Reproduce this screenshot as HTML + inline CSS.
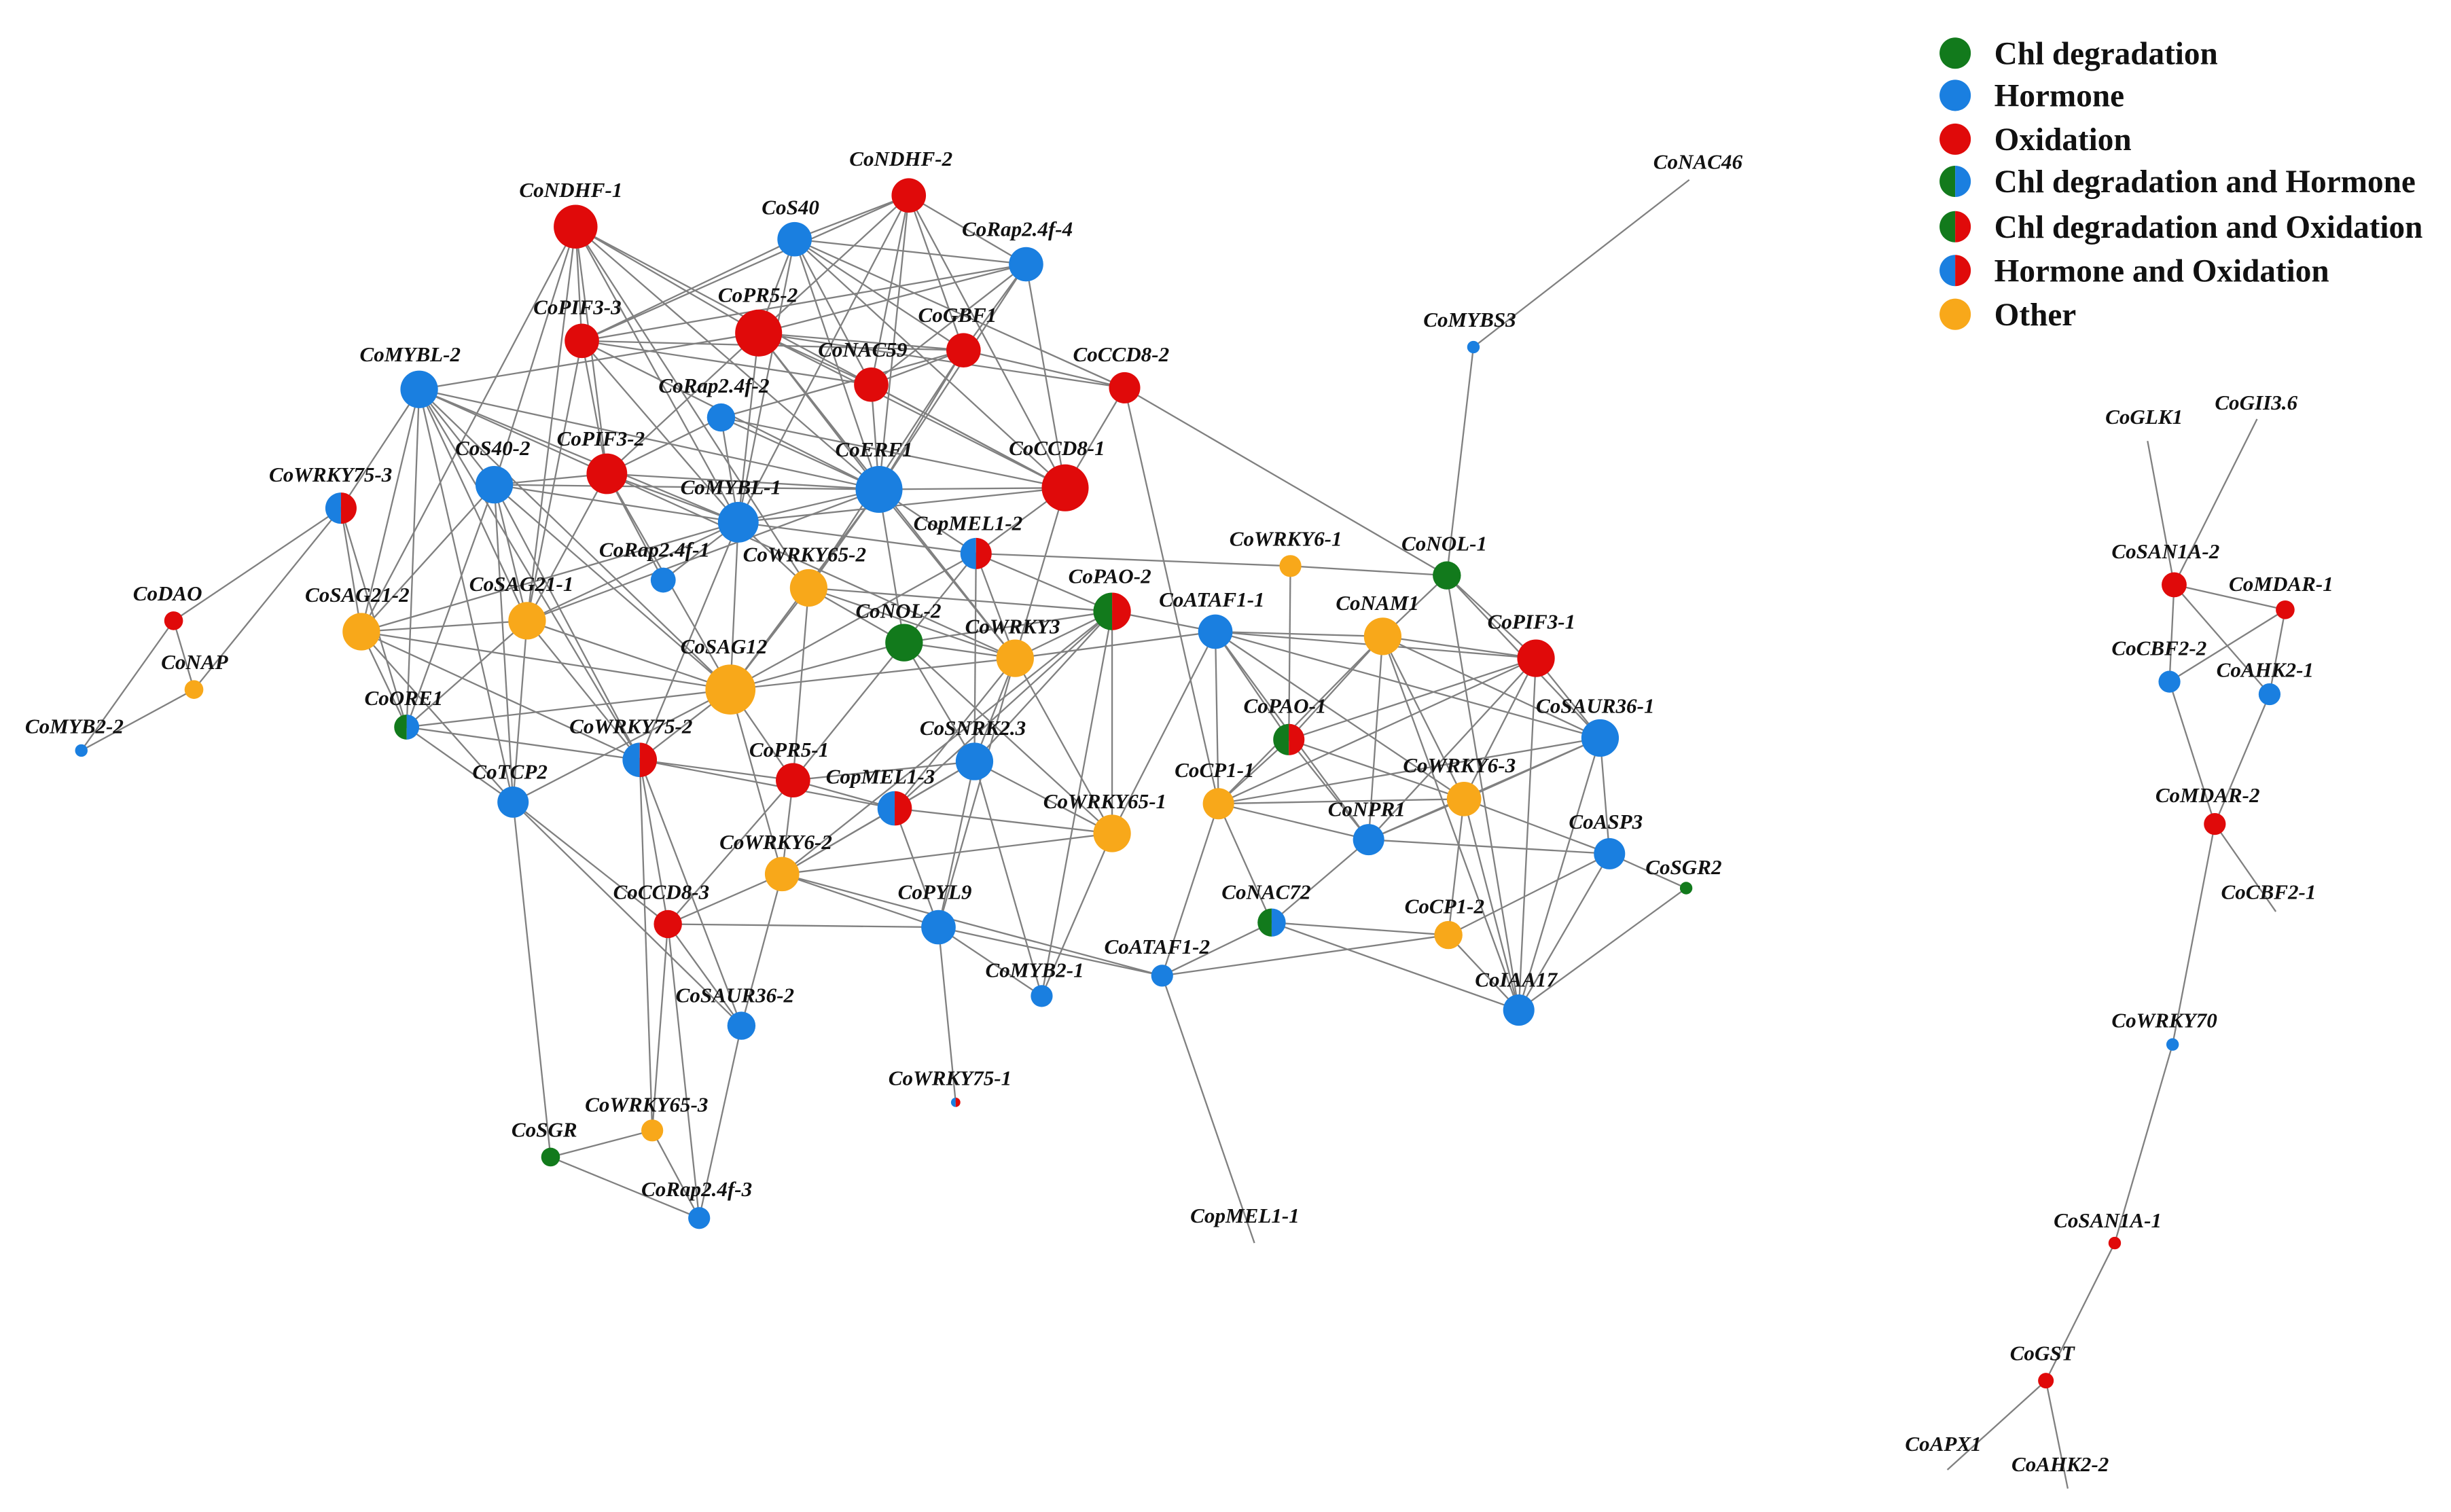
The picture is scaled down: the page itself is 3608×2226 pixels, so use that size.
<!DOCTYPE html>
<html><head><meta charset="utf-8"><style>
html,body{margin:0;padding:0;background:#fff;}
svg{display:block;}
.l{font-family:"Liberation Serif",serif;font-style:italic;font-weight:bold;font-size:13.5px;fill:#111;}
.g{font-family:"Liberation Serif",serif;font-weight:bold;font-size:20.5px;fill:#111;}
</style></head><body>
<svg id="s" width="3608" height="2226" viewBox="0 0 1567 967" preserveAspectRatio="none" xmlns="http://www.w3.org/2000/svg">
<g id="edges" stroke="#808080" stroke-width="1" fill="none"></g>
<g id="nodes"></g>
<g>
<text class="l" x="332" y="126">CoNDHF-1</text>
<text class="l" x="543" y="106">CoNDHF-2</text>
<text class="l" x="487" y="137">CoS40</text>
<text class="l" x="615" y="151">CoRap2.4f-4</text>
<text class="l" x="341" y="201">CoPIF3-3</text>
<text class="l" x="459" y="193">CoPR5-2</text>
<text class="l" x="587" y="206">CoGBF1</text>
<text class="l" x="523" y="228">CoNAC59</text>
<text class="l" x="686" y="231">CoCCD8-2</text>
<text class="l" x="230" y="231">CoMYBL-2</text>
<text class="l" x="421" y="251">CoRap2.4f-2</text>
<text class="l" x="356" y="285">CoPIF3-2</text>
<text class="l" x="291" y="291">CoS40-2</text>
<text class="l" x="534" y="292">CoERF1</text>
<text class="l" x="645" y="291">CoCCD8-1</text>
<text class="l" x="435" y="316">CoMYBL-1</text>
<text class="l" x="172" y="308">CoWRKY75-3</text>
<text class="l" x="584" y="339">CopMEL1-2</text>
<text class="l" x="383" y="356">CoRap2.4f-1</text>
<text class="l" x="475" y="359">CoWRKY65-2</text>
<text class="l" x="786" y="349">CoWRKY6-1</text>
<text class="l" x="896" y="352">CoNOL-1</text>
<text class="l" x="85" y="384">CoDAO</text>
<text class="l" x="195" y="385">CoSAG21-2</text>
<text class="l" x="300" y="378">CoSAG21-1</text>
<text class="l" x="547" y="395">CoNOL-2</text>
<text class="l" x="683" y="373">CoPAO-2</text>
<text class="l" x="741" y="388">CoATAF1-1</text>
<text class="l" x="854" y="390">CoNAM1</text>
<text class="l" x="435" y="418">CoSAG12</text>
<text class="l" x="617" y="405">CoWRKY3</text>
<text class="l" x="951" y="402">CoPIF3-1</text>
<text class="l" x="103" y="428">CoNAP</text>
<text class="l" x="233" y="451">CoORE1</text>
<text class="l" x="795" y="456">CoPAO-1</text>
<text class="l" x="982" y="456">CoSAUR36-1</text>
<text class="l" x="16" y="469">CoMYB2-2</text>
<text class="l" x="364" y="469">CoWRKY75-2</text>
<text class="l" x="588" y="470">CoSNRK2.3</text>
<text class="l" x="479" y="484">CoPR5-1</text>
<text class="l" x="302" y="498">CoTCP2</text>
<text class="l" x="528" y="501">CopMEL1-3</text>
<text class="l" x="751" y="497">CoCP1-1</text>
<text class="l" x="897" y="494">CoWRKY6-3</text>
<text class="l" x="849" y="522">CoNPR1</text>
<text class="l" x="667" y="517">CoWRKY65-1</text>
<text class="l" x="1003" y="530">CoASP3</text>
<text class="l" x="460" y="543">CoWRKY6-2</text>
<text class="l" x="1052" y="559">CoSGR2</text>
<text class="l" x="392" y="575">CoCCD8-3</text>
<text class="l" x="574" y="575">CoPYL9</text>
<text class="l" x="781" y="575">CoNAC72</text>
<text class="l" x="898" y="584">CoCP1-2</text>
<text class="l" x="706" y="610">CoATAF1-2</text>
<text class="l" x="630" y="625">CoMYB2-1</text>
<text class="l" x="943" y="631">CoIAA17</text>
<text class="l" x="432" y="641">CoSAUR36-2</text>
<text class="l" x="568" y="694">CoWRKY75-1</text>
<text class="l" x="374" y="711">CoWRKY65-3</text>
<text class="l" x="327" y="727">CoSGR</text>
<text class="l" x="410" y="765">CoRap2.4f-3</text>
<text class="l" x="910" y="209">CoMYBS3</text>
<text class="l" x="1057" y="108">CoNAC46</text>
<text class="l" x="761" y="782">CopMEL1-1</text>
<text class="l" x="1346" y="271">CoGLK1</text>
<text class="l" x="1416" y="262">CoGII3.6</text>
<text class="l" x="1350" y="357">CoSAN1A-2</text>
<text class="l" x="1425" y="378">CoMDAR-1</text>
<text class="l" x="1350" y="419">CoCBF2-2</text>
<text class="l" x="1417" y="433">CoAHK2-1</text>
<text class="l" x="1378" y="513">CoMDAR-2</text>
<text class="l" x="1420" y="575">CoCBF2-1</text>
<text class="l" x="1350" y="657">CoWRKY70</text>
<text class="l" x="1313" y="785">CoSAN1A-1</text>
<text class="l" x="1285" y="870">CoGST</text>
<text class="l" x="1218" y="928">CoAPX1</text>
<text class="l" x="1286" y="941">CoAHK2-2</text>
</g>
<g id="legend">
<text class="g" x="1275" y="41">Chl degradation</text>
<text class="g" x="1275" y="68">Hormone</text>
<text class="g" x="1275" y="96">Oxidation</text>
<text class="g" x="1275" y="123">Chl degradation and Hormone</text>
<text class="g" x="1275" y="152">Chl degradation and Oxidation</text>
<text class="g" x="1275" y="180">Hormone and Oxidation</text>
<text class="g" x="1275" y="208">Other</text>
</g>
</svg>
<script>
var G='#127a1c',B='#1a7fe0',R='#e00a0a',O='#f8a81a';
var N={
NDHF1:[368,145,14,R],NDHF2:[581,125,11,R],S40:[508,153,11,B],Rap4:[656,169,11,B],PIF33:[372,218,11,R],
PR52:[485,213,15,R],GBF1:[616,224,11,R],NAC59:[557,246,11,R],CCD82:[719,248,10,R],MYBL2:[268,249,12,B],
Rap2:[461,267,9,B],PIF32:[388,303,13,R],S402:[316,310,12,B],ERF1:[562,313,15,B],CCD81:[681,312,15,R],
MYBL1:[472,334,13,B],WRKY753:[218,325,10,B,R],pMEL12:[624,354,10,B,R],Rap1:[424,371,8,B],WRKY652:[517,376,12,O],
WRKY61:[825,362,7,O],NOL1:[925,368,9,G],DAO:[111,397,6,R],SAG212:[231,404,12,O],SAG211:[337,397,12,O],
NOL2:[578,411,12,G],PAO2:[711,391,12,G,R],ATAF11:[777,404,11,B],NAM1:[884,407,12,O],SAG12:[467,441,16,O],
WRKY3:[649,421,12,O],PIF31:[982,421,12,R],NAP:[124,441,6,O],ORE1:[260,465,8,G,B],PAO1:[824,473,10,G,R],
SAUR361:[1023,472,12,B],MYB22:[52,480,4,B],WRKY752:[409,486,11,B,R],SNRK:[623,487,12,B],PR51:[507,499,11,R],
TCP2:[328,513,10,B],pMEL13:[572,517,11,B,R],CP11:[779,514,10,O],WRKY63:[936,511,11,O],NPR1:[875,537,10,B],
WRKY651:[711,533,12,O],ASP3:[1029,546,10,B],WRKY62:[500,559,11,O],SGR2:[1078,568,4,G],CCD83:[427,591,9,R],
PYL9:[600,593,11,B],NAC72:[813,590,9,G,B],CP12:[926,598,9,O],ATAF12:[743,624,7,B],MYB21:[666,637,7,B],
IAA17:[971,646,10,B],SAUR362:[474,656,9,B],WRKY751:[611,705,3,B,R],WRKY653:[417,723,7,O],SGR:[352,740,6,G],
Rap3:[447,779,7,B],MYBS3:[942,222,4,B],
SAN1A2:[1390,374,8,R],MDAR1:[1461,390,6,R],CBF22:[1387,436,7,B],AHK21:[1451,444,7,B],MDAR2:[1416,527,7,R],
WRKY70:[1389,668,4,B],SAN1A1:[1352,795,4,R],GST:[1308,883,5,R],
e1:[1080,115,0],e2:[802,795,0],e3:[1373,282,0],e4:[1443,268,0],e5:[1455,583,0],e6:[1245,940,0],e7:[1322,952,0]};
var E="NDHF1-PIF33 NDHF1-PR52 NDHF1-S402 NDHF1-MYBL1 NDHF1-ERF1 NDHF1-CCD81 NDHF1-SAG212 NDHF1-SAG211 NDHF1-PIF32 NDHF1-WRKY652 NDHF2-S40 NDHF2-PIF33 NDHF2-PR52 NDHF2-NAC59 NDHF2-GBF1 NDHF2-ERF1 NDHF2-CCD81 NDHF2-Rap4 NDHF2-MYBL1 S40-Rap4 S40-PIF33 S40-PR52 S40-GBF1 S40-NAC59 S40-CCD82 S40-ERF1 S40-MYBL1 S40-CCD81 Rap4-PR52 Rap4-GBF1 Rap4-ERF1 Rap4-NAC59 Rap4-CCD81 Rap4-PIF33 PIF33-NAC59 PIF33-GBF1 PIF33-MYBL1 PIF33-SAG211 PIF33-PIF32 PIF33-ERF1 PR52-NAC59 PR52-GBF1 PR52-ERF1 PR52-CCD81 PR52-MYBL1 PR52-MYBL2 PR52-PIF32 PR52-CCD82 PR52-WRKY3 GBF1-CCD82 GBF1-ERF1 GBF1-NAC59 GBF1-WRKY652 GBF1-Rap2 NAC59-ERF1 NAC59-CCD81 CCD82-CCD81 CCD82-NOL1 CCD82-CP11 MYBL2-S402 MYBL2-PIF32 MYBL2-MYBL1 MYBL2-ERF1 MYBL2-SAG212 MYBL2-SAG211 MYBL2-WRKY753 MYBL2-ORE1 MYBL2-TCP2 MYBL2-SAG12 MYBL2-WRKY752 Rap2-PIF32 Rap2-ERF1 Rap2-MYBL1 Rap2-CCD81 PIF32-S402 PIF32-MYBL1 PIF32-SAG211 PIF32-SAG12 PIF32-ERF1 PIF32-WRKY3 PIF32-Rap1 S402-MYBL1 S402-SAG212 S402-SAG211 S402-SAG12 S402-ORE1 S402-TCP2 S402-WRKY752 S402-ERF1 ERF1-MYBL1 ERF1-CCD81 ERF1-WRKY652 ERF1-SAG12 ERF1-NOL2 ERF1-pMEL12 ERF1-WRKY3 ERF1-SAG211 CCD81-pMEL12 CCD81-WRKY3 CCD81-MYBL1 MYBL1-SAG12 MYBL1-SAG211 MYBL1-SAG212 MYBL1-Rap1 MYBL1-WRKY652 MYBL1-pMEL12 MYBL1-WRKY752 WRKY753-DAO WRKY753-NAP WRKY753-SAG212 WRKY753-ORE1 DAO-MYB22 NAP-MYB22 DAO-NAP pMEL12-WRKY61 pMEL12-WRKY3 pMEL12-NOL2 pMEL12-SNRK pMEL12-PAO2 pMEL12-SAG12 WRKY652-SAG12 WRKY652-PR51 WRKY652-NOL2 WRKY652-WRKY3 WRKY652-PAO2 WRKY61-NOL1 WRKY61-PAO1 NOL1-PIF31 NOL1-SAUR361 NOL1-NAM1 NOL1-IAA17 NOL1-MYBS3 SAG212-SAG211 SAG212-SAG12 SAG212-ORE1 SAG212-TCP2 SAG212-WRKY752 SAG211-SAG12 SAG211-TCP2 SAG211-WRKY752 SAG211-ORE1 NOL2-SAG12 NOL2-WRKY3 NOL2-PAO2 NOL2-SNRK NOL2-WRKY651 NOL2-PR51 PAO2-WRKY3 PAO2-ATAF11 PAO2-pMEL13 PAO2-WRKY62 PAO2-MYB21 PAO2-SNRK PAO2-WRKY651 ATAF11-NAM1 ATAF11-PIF31 ATAF11-NPR1 ATAF11-CP11 ATAF11-WRKY63 ATAF11-SAUR361 ATAF11-PAO1 NAM1-PIF31 NAM1-PAO1 NAM1-NPR1 NAM1-WRKY63 NAM1-CP11 NAM1-IAA17 NAM1-SAUR361 SAG12-WRKY3 SAG12-ORE1 SAG12-WRKY752 SAG12-PR51 SAG12-TCP2 SAG12-WRKY62 WRKY3-SNRK WRKY3-WRKY651 WRKY3-pMEL13 WRKY3-PYL9 WRKY3-ATAF11 PIF31-PAO1 PIF31-SAUR361 PIF31-WRKY63 PIF31-IAA17 PIF31-CP11 PIF31-NPR1 ORE1-WRKY752 ORE1-TCP2 PAO1-CP11 PAO1-WRKY63 PAO1-NPR1 SAUR361-WRKY63 SAUR361-ASP3 SAUR361-IAA17 SAUR361-CP11 SAUR361-NPR1 WRKY752-PR51 WRKY752-pMEL13 WRKY752-SAUR362 WRKY752-CCD83 WRKY752-WRKY653 SNRK-PR51 SNRK-WRKY62 SNRK-PYL9 SNRK-MYB21 SNRK-pMEL13 SNRK-WRKY651 PR51-pMEL13 PR51-WRKY62 PR51-CCD83 TCP2-CCD83 TCP2-SGR TCP2-SAUR362 pMEL13-WRKY62 pMEL13-PYL9 pMEL13-WRKY651 CP11-WRKY63 CP11-NPR1 CP11-ATAF12 CP11-NAC72 WRKY63-NPR1 WRKY63-ASP3 WRKY63-IAA17 WRKY63-CP12 NPR1-NAC72 NPR1-ASP3 WRKY651-WRKY62 WRKY651-MYB21 WRKY651-ATAF11 ASP3-SGR2 ASP3-IAA17 ASP3-CP12 IAA17-SGR2 WRKY62-PYL9 WRKY62-CCD83 WRKY62-SAUR362 CCD83-SAUR362 CCD83-WRKY653 CCD83-Rap3 PYL9-WRKY751 PYL9-MYB21 PYL9-ATAF12 PYL9-CCD83 NAC72-CP12 NAC72-ATAF12 NAC72-IAA17 CP12-ATAF12 CP12-IAA17 ATAF12-e2 ATAF12-WRKY62 SAUR362-Rap3 WRKY653-SGR SGR-Rap3 WRKY653-Rap3 MYBS3-e1 e3-SAN1A2 e4-SAN1A2 SAN1A2-MDAR1 SAN1A2-CBF22 SAN1A2-AHK21 MDAR1-CBF22 MDAR1-AHK21 CBF22-MDAR2 AHK21-MDAR2 MDAR2-e5 MDAR2-WRKY70 WRKY70-SAN1A1 SAN1A1-GST GST-e6 GST-e7".split(' ');
var ns='http://www.w3.org/2000/svg',eg=document.getElementById('edges'),ng=document.getElementById('nodes');
E.forEach(function(p){var a=N[p.split('-')[0]],b=N[p.split('-')[1]];if(!a||!b)return;
var l=document.createElementNS(ns,'line');l.setAttribute('x1',a[0]);l.setAttribute('y1',a[1]);l.setAttribute('x2',b[0]);l.setAttribute('y2',b[1]);eg.appendChild(l);});
function circ(g,x,y,r,c1,c2){if(!c2){var c=document.createElementNS(ns,'circle');c.setAttribute('cx',x);c.setAttribute('cy',y);c.setAttribute('r',r);c.setAttribute('fill',c1);g.appendChild(c);}else{
[[c1,0],[c2,1]].forEach(function(q){var p=document.createElementNS(ns,'path');p.setAttribute('d','M'+x+' '+(y-r)+' A'+r+' '+r+' 0 0 '+q[1]+' '+x+' '+(y+r)+' Z');p.setAttribute('fill',q[0]);g.appendChild(p);});}}
for(var k in N){var n=N[k];if(n[2]>0)circ(ng,n[0],n[1],n[2],n[3],n[4]);}
var lg=document.getElementById('legend');
[[34,G],[61,B],[89,R],[116,G,B],[145,G,R],[173,B,R],[201,O]].forEach(function(q){circ(lg,1250,q[0],10,q[1],q[2]);});
</script>
</body></html>
